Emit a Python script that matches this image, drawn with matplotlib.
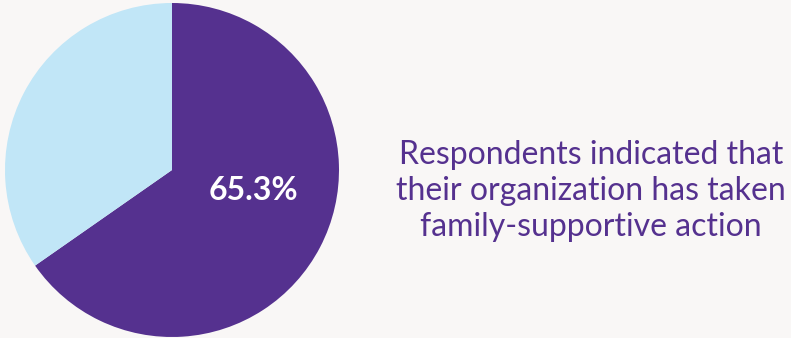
import matplotlib.pyplot as plt

# ============================================================
# Data
# ============================================================
labels = ['Taken action', 'Not taken action']
shares = [65.3, 34.7]
colors = ['#55318f', '#c1e6f7']
caption = 'Respondents indicated that\ntheir organization has taken\nfamily-supportive action'

bg = '#f9f7f6'

plt.rcParams['font.family'] = ['Lato', 'DejaVu Sans']

fig = plt.figure(figsize=(7.91, 3.38), dpi=100, facecolor=bg)

# pie axes, centered near x=172, y=170 px
r_px = 167
ax = fig.add_axes([(172 - r_px) / 791, (338 - 170 - r_px) / 338,
                   2 * r_px / 791, 2 * r_px / 338])
ax.set_facecolor(bg)
ax.pie(shares, colors=colors, startangle=90, counterclock=False,
       radius=1.0, wedgeprops={'linewidth': 0})
ax.set_xlim(-1, 1)
ax.set_ylim(-1, 1)
ax.set_aspect('equal')
ax.axis('off')

ax.text(0.49, -0.12, f'{shares[0]:.1f}%', color='white', fontsize=23,
        fontweight='bold', ha='center', va='center')

fig.text(591 / 791, 1 - 191 / 338, caption, color='#55318f', fontsize=23,
         ha='center', va='center', linespacing=1.25)

plt.savefig('out.png', dpi=100, facecolor=bg)
